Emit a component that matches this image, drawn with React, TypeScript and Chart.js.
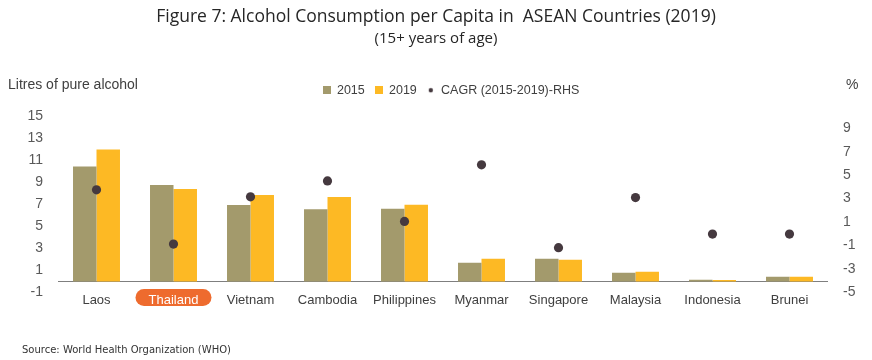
import React, { useEffect, useRef } from "react";
import { Chart, registerables } from "chart.js";

Chart.register(...registerables);

const titleText = "Figure 7: Alcohol Consumption per Capita in  ASEAN Countries (2019)";
const subtitleText = "(15+ years of age)";
const leftAxisTitle = "Litres of pure alcohol";
const rightAxisTitle = "%";
const sourceText = "Source: World Health Organization (WHO)";
const highlightCategory = "Thailand";

const categories = ["Laos", "Thailand", "Vietnam", "Cambodia", "Philippines", "Myanmar", "Singapore", "Malaysia", "Indonesia", "Brunei"];
const values2015 = [10.45, 8.76, 6.95, 6.56, 6.6, 1.69, 2.05, 0.79, 0.15, 0.43];
const values2019 = [12.0, 8.4, 7.85, 7.67, 6.97, 2.05, 1.96, 0.88, 0.12, 0.43];
const cagrValues = [3.75, -0.88, 3.15, 4.51, 1.05, 5.88, -1.19, 3.09, -0.03, -0.03];
const leftTicks = [-1, 1, 3, 5, 7, 9, 11, 13, 15];
const rightTicks = [-5, -3, -1, 1, 3, 5, 7, 9];

const C2015 = "#a39a6c";
const C2019 = "#fdb924";
const CDOT = "#45393f";
const PILL = "#ee6b2e";

function makeMarker(kind: "rect" | "dot", color: string) {
  const c = document.createElement("canvas");
  c.width = 8;
  c.height = 8;
  const g = c.getContext("2d")!;
  g.fillStyle = color;
  if (kind === "rect") {
    g.fillRect(0, 0, 8, 8);
  } else {
    g.beginPath();
    g.arc(4, 4, 2.2, 0, Math.PI * 2);
    g.fill();
  }
  return c;
}

export default function App() {
  const ref = useRef<HTMLCanvasElement | null>(null);

  useEffect(() => {
    const canvas = ref.current;
    if (!canvas) return;

    const markers = [makeMarker("rect", C2015), makeMarker("rect", C2019), makeMarker("dot", CDOT)];

    const legendSpacing = {
      id: "legendSpacing",
      beforeInit(chart: any) {
        const orig = chart.legend.fit;
        chart.legend.fit = function () {
          orig.call(this);
          this.height += 10;
        };
      },
      afterLayout(chart: any) {
        chart.legend.left += 15;
        chart.legend.right += 15;
      },
    };

    const decorations = {
      id: "decorations",
      beforeDraw(chart: any) {
        const ctx = chart.ctx;
        const xs = chart.scales.x;
        const idx = categories.indexOf(highlightCategory);
        if (idx >= 0) {
          const cx = xs.getPixelForValue(idx);
          const cy = chart.chartArea.bottom + 5;
          const w = 76;
          const h = 17;
          ctx.save();
          ctx.fillStyle = PILL;
          ctx.beginPath();
          ctx.roundRect(cx - w / 2, cy - h / 2, w, h, h / 2);
          ctx.fill();
          ctx.restore();
        }
      },
      beforeDatasetsDraw(chart: any) {
        const ctx = chart.ctx;
        const y = Math.round(chart.scales.y.getPixelForValue(0)) + 0.5;
        ctx.save();
        ctx.strokeStyle = "#7f7f7f";
        ctx.lineWidth = 1;
        ctx.beginPath();
        ctx.moveTo(chart.chartArea.left, y);
        ctx.lineTo(chart.chartArea.right, y);
        ctx.stroke();
        ctx.restore();
      },
      afterDraw(chart: any) {
        const ctx = chart.ctx;
        ctx.save();
        ctx.fillStyle = "#404040";
        ctx.textBaseline = "middle";
        ctx.font = "14px 'Liberation Sans', Arial, sans-serif";
        ctx.textAlign = "left";
        ctx.fillText(leftAxisTitle, 8, 85);
        ctx.fillText(rightAxisTitle, 846, 85);
        ctx.font = "10px 'DejaVu Sans', sans-serif";
        ctx.fillStyle = "#333333";
        ctx.fillText(sourceText, 22, 350);
        ctx.restore();
      },
    };

    const chart = new Chart(canvas, {
      type: "bar",
      data: {
        labels: categories,
        datasets: [
          {
            type: "bar",
            label: "2015",
            data: values2015,
            backgroundColor: C2015,
            yAxisID: "y",
            order: 2,
            barPercentage: 1,
            categoryPercentage: 0.61,
          },
          {
            type: "bar",
            label: "2019",
            data: values2019,
            backgroundColor: C2019,
            yAxisID: "y",
            order: 2,
            barPercentage: 1,
            categoryPercentage: 0.61,
          },
          {
            type: "line",
            label: "CAGR (2015-2019)-RHS",
            data: cagrValues,
            yAxisID: "y1",
            showLine: false,
            pointRadius: 4.6,
            pointBackgroundColor: CDOT,
            pointBorderWidth: 0,
            borderColor: CDOT,
            backgroundColor: CDOT,
            order: 0,
          } as any,
        ],
      },
      options: {
        responsive: false,
        animation: false,
        events: [],
        layout: { padding: { left: 0, right: 0, top: 0, bottom: 52 } },
        plugins: {
          tooltip: { enabled: false },
          title: {
            display: true,
            text: titleText,
            color: "#262626",
            font: { family: "'Open Sans', sans-serif", size: 17.5, weight: "normal" },
            padding: { top: 7, bottom: 2 },
          },
          subtitle: {
            display: true,
            text: subtitleText,
            color: "#262626",
            font: { family: "'Open Sans', sans-serif", size: 15, weight: "normal" },
            padding: { top: 0, bottom: 26 },
          },
          legend: {
            display: true,
            position: "top",
            labels: {
              usePointStyle: true,
              boxWidth: 8,
              boxHeight: 8,
              padding: 10,
              color: "#404040",
              font: { family: "'Liberation Sans', Arial, sans-serif", size: 12.5 },
              generateLabels: (ch: any) =>
                ch.data.datasets.map((d: any, i: number) => ({
                  text: d.label,
                  pointStyle: markers[i],
                  fillStyle: d.backgroundColor,
                  strokeStyle: d.backgroundColor,
                  lineWidth: 0,
                  hidden: false,
                  datasetIndex: i,
                  fontColor: "#404040",
                })),
            },
          },
        },
        scales: {
          x: {
            grid: { display: false, drawTicks: false },
            border: { display: false },
            ticks: {
              padding: 0,
              color: (c: any) => (categories[c.index] === highlightCategory ? "#ffffff" : "#404040"),
              font: { family: "'Liberation Sans', Arial, sans-serif", size: 13 },
              maxRotation: 0,
              autoSkip: false,
            },
          },
          y: {
            position: "left",
            min: leftTicks[0],
            max: leftTicks[leftTicks.length - 1],
            grid: { display: false, drawTicks: false },
            border: { display: false },
            afterBuildTicks: (s: any) => {
              s.ticks = leftTicks.map((v) => ({ value: v }));
            },
            afterFit: (s: any) => {
              s.width = 58;
            },
            ticks: {
              padding: 15,
              color: "#595959",
              font: { family: "'Liberation Sans', Arial, sans-serif", size: 14 },
            },
          },
          y1: {
            position: "right",
            min: -5,
            max: 10,
            grid: { display: false, drawTicks: false },
            border: { display: false },
            afterBuildTicks: (s: any) => {
              s.ticks = rightTicks.map((v) => ({ value: v }));
            },
            afterFit: (s: any) => {
              s.width = 44;
            },
            ticks: {
              padding: 15,
              color: "#595959",
              font: { family: "'Liberation Sans', Arial, sans-serif", size: 14 },
            },
          },
        },
      } as any,
      plugins: [legendSpacing, decorations],
    });

    return () => chart.destroy();
  }, []);

  return (
    <div style={{ position: "absolute", left: 0, top: 0, width: 872, height: 360, background: "#ffffff" }}>
      <canvas ref={ref} width={872} height={360} style={{ display: "block" }} />
    </div>
  );
}
